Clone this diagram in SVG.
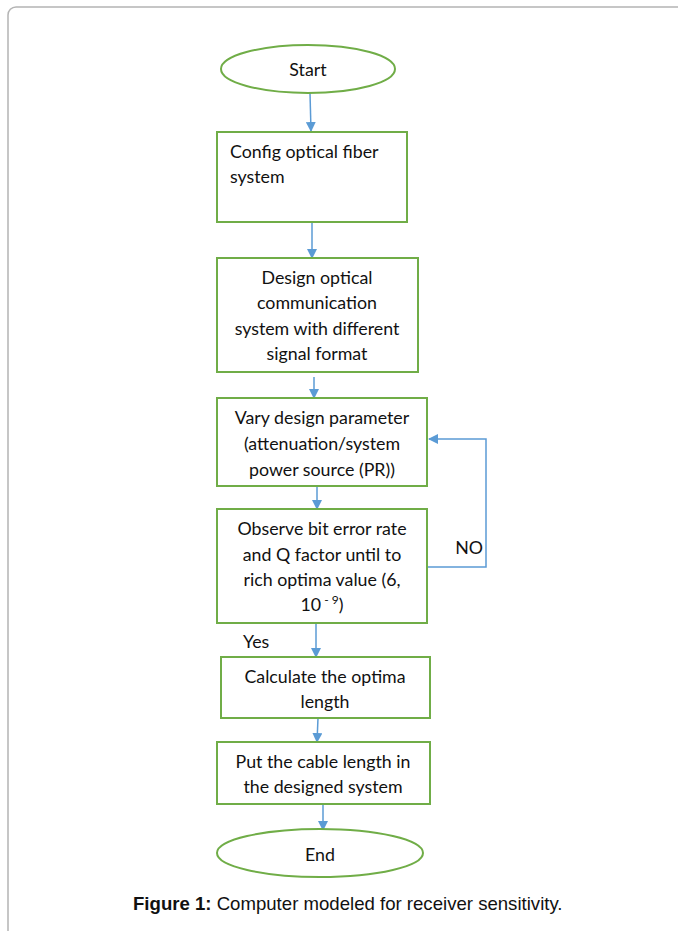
<svg xmlns="http://www.w3.org/2000/svg" width="678" height="931" viewBox="0 0 678 931">
  <defs>
    <marker id="arrow" markerWidth="10" markerHeight="10" refX="9" refY="5" orient="auto" markerUnits="userSpaceOnUse">
      <path d="M0,0 L10,5 L0,10 Z" fill="#5b9bd5"/>
    </marker>
    <style>
      .frame { fill: #ffffff; stroke: #b4b4b4; stroke-width: 1.5; }
      .box { fill: #ffffff; stroke: #70ad47; stroke-width: 2; }
      .term { fill: #ffffff; stroke: #70ad47; stroke-width: 2; }
      .label { font-family: Lato, "Liberation Sans", sans-serif; font-size: 17.8px; fill: #111111; }
      .mid { text-anchor: middle; }
      .link { fill: none; stroke: #5b9bd5; stroke-width: 1.5; }
      .caption { font-family: "Liberation Sans", Arial, sans-serif; font-size: 18.6px; fill: #111111; }
    </style>
  </defs>

  <rect width="678" height="931" fill="#ffffff"/>
  <rect class="frame" x="8" y="7" width="700" height="960" rx="8" ry="8"/>

  <!-- connectors -->
  <g id="connectors">
    <line class="link" x1="310" y1="93" x2="311" y2="131" marker-end="url(#arrow)"/>
    <line class="link" x1="312" y1="222" x2="312" y2="258" marker-end="url(#arrow)"/>
    <line class="link" x1="314" y1="377" x2="314" y2="398" marker-end="url(#arrow)"/>
    <line class="link" x1="317" y1="487" x2="317" y2="509" marker-end="url(#arrow)"/>
    <polyline class="link" points="426,567 486,567 486,439 429,439" marker-end="url(#arrow)"/>
    <line class="link" x1="316" y1="624" x2="316" y2="657" marker-end="url(#arrow)"/>
    <line class="link" x1="318" y1="718" x2="317" y2="742" marker-end="url(#arrow)"/>
    <line class="link" x1="323" y1="805" x2="323" y2="830" marker-end="url(#arrow)"/>
    <text class="label" x="483" y="554" text-anchor="end" font-size="16.5">NO</text>
    <text class="label" x="243" y="648">Yes</text>
  </g>

  <g id="start">
    <ellipse class="term" cx="308" cy="69" rx="87" ry="24"/>
    <text class="label mid" x="308" y="76">Start</text>
  </g>

  <g id="config">
    <rect class="box" x="217" y="132" width="190" height="90"/>
    <text class="label" x="230" y="158">Config optical fiber</text>
    <text class="label" x="230" y="183">system</text>
  </g>

  <g id="design">
    <rect class="box" x="217" y="258" width="201" height="114"/>
    <text class="label mid" x="317" y="284">Design optical</text>
    <text class="label mid" x="317" y="309">communication</text>
    <text class="label mid" x="317" y="335">system with different</text>
    <text class="label mid" x="317" y="360">signal format</text>
  </g>

  <g id="vary">
    <rect class="box" x="217" y="398" width="210" height="88"/>
    <text class="label mid" x="322" y="424">Vary design parameter</text>
    <text class="label mid" x="322" y="450">(attenuation/system</text>
    <text class="label mid" x="322" y="476">power source (PR))</text>
  </g>

  <g id="observe">
    <rect class="box" x="217" y="509" width="210" height="114"/>
    <text class="label mid" x="322" y="535">Observe bit error rate</text>
    <text class="label mid" x="322" y="561">and Q factor until to</text>
    <text class="label mid" x="322" y="586">rich optima value (6,</text>
    <text class="label mid" x="322" y="611">10<tspan font-size="12" dy="-7"> - 9</tspan><tspan dy="7">)</tspan></text>
  </g>

  <g id="calculate">
    <rect class="box" x="221" y="657" width="209" height="61"/>
    <text class="label mid" x="325" y="683">Calculate the optima</text>
    <text class="label mid" x="325" y="708">length</text>
  </g>

  <g id="put">
    <rect class="box" x="217" y="742" width="213" height="62"/>
    <text class="label mid" x="323" y="768">Put the cable length in</text>
    <text class="label mid" x="323" y="793">the designed system</text>
  </g>

  <g id="end">
    <ellipse class="term" cx="320" cy="853" rx="103" ry="24"/>
    <text class="label mid" x="320" y="861">End</text>
  </g>

  <text class="caption" x="133" y="910"><tspan font-weight="bold">Figure 1:</tspan> Computer modeled for receiver sensitivity.</text>
</svg>
